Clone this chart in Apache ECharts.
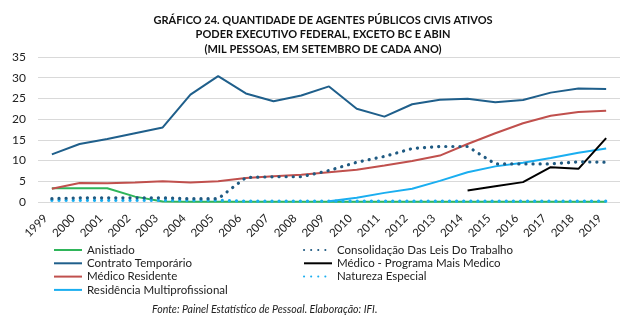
<!DOCTYPE html>
<html>
<head>
<meta charset="utf-8">
<script src="https://cdn.jsdelivr.net/npm/echarts@6/dist/echarts.min.js"></script>
<style>
  html, body { margin: 0; padding: 0; background: #fff; }
  #chart { width: 637px; height: 323px; }
</style>
</head>
<body>
<div id="chart"></div>
<script>
// Agentes públicos civis ativos por vínculo, em mil pessoas (setembro de cada ano)
const anos = ['1999','2000','2001','2002','2003','2004','2005','2006','2007','2008','2009',
              '2010','2011','2012','2013','2014','2015','2016','2017','2018','2019'];

const anistiado = [3.3, 3.3, 3.3, 1.3, 0.1, 0.05, 0.05, 0.05, 0.05, 0.05, 0.05,
                   0.05, 0.05, 0.05, 0.05, 0.05, 0.05, 0.05, 0.05, 0.05, 0.05];
const contratoTemporario = [11.5, 14.0, 15.2, 16.6, 18.0, 25.9, 30.4, 26.2, 24.3, 25.7, 27.9,
                            22.5, 20.6, 23.6, 24.7, 24.9, 24.1, 24.6, 26.4, 27.4, 27.3];
const medicoResidente = [3.2, 4.6, 4.5, 4.7, 5.0, 4.7, 5.0, 5.8, 6.2, 6.6, 7.2,
                         7.8, 8.8, 9.9, 11.2, 14.0, 16.6, 19.0, 20.8, 21.7, 22.0];
const residenciaMulti = [null, null, null, null, null, null, null, null, null, null, 0.2,
                         1.0, 2.2, 3.2, 5.1, 7.2, 8.6, 9.5, 10.6, 11.9, 12.9];
const clt = [0.8, 1.0, 1.0, 1.0, 1.0, 0.8, 0.8, 5.9, 6.1, 6.1, 7.6,
             9.6, 11.0, 12.9, 13.4, 13.4, 9.2, 9.2, 9.2, 9.7, 9.6];
const maisMedico = [null, null, null, null, null, null, null, null, null, null, null,
                    null, null, null, null, 2.8, 3.8, 4.8, 8.4, 8.0, 15.4];
const naturezaEspecial = [0.4, 0.4, 0.4, 0.4, 0.4, 0.4, 0.4, 0.2, 0.2, 0.2, 0.2,
                          0.2, 0.2, 0.2, 0.2, 0.2, 0.2, 0.2, 0.2, 0.2, 0.2];

const yTicks = [0, 5, 10, 15, 20, 25, 30, 35];

const FONT = 'Lato';
const chart = echarts.init(document.getElementById('chart'), null, { renderer: 'canvas' });

function solid(name, data, color) {
  return {
    name, type: 'line', data, symbol: 'none', smooth: false,
    lineStyle: { color, width: 2 }, itemStyle: { color },
    connectNulls: false, animation: false
  };
}
function dots(name, data, color) {
  return {
    name, type: 'line', data, symbol: 'none', smooth: false,
    lineStyle: { color, width: 3.2, type: [0.1, 7], cap: 'round' },
    itemStyle: { color }, animation: false
  };
}

const legendText = { fontFamily: FONT, fontSize: 11.5, color: '#222' };
const legendBase = {
  orient: 'vertical', top: 239, itemWidth: 28, itemHeight: 8, itemGap: 1.3,
  itemStyle: { opacity: 0 }, textStyle: legendText
};

chart.setOption({
  backgroundColor: '#ffffff',
  animation: false,
  title: {
    text: 'GRÁFICO 24. QUANTIDADE DE AGENTES PÚBLICOS CIVIS ATIVOS\nPODER EXECUTIVO FEDERAL, EXCETO BC E ABIN\n(MIL PESSOAS, EM SETEMBRO DE CADA ANO)',
    left: 318, top: 8, textAlign: 'center',
    textStyle: { fontFamily: FONT, fontSize: 11, fontWeight: 'bold', color: '#111', lineHeight: 14.5 }
  },
  graphic: [{
    type: 'text', left: 152, top: 304,
    style: { text: 'Fonte: Painel Estatístico de Pessoal. Elaboração: IFI.',
             font: 'italic 10.6px ' + FONT, fill: '#222' }
  }],
  grid: { left: 38, right: 17, top: 57, bottom: 121, containLabel: false },
  xAxis: {
    type: 'category', data: anos, boundaryGap: true,
    axisLine: { show: false }, axisTick: { show: false },
    axisLabel: { rotate: 45, fontFamily: FONT, fontSize: 11.5, color: '#222', margin: 8,
                 padding: [0, 9, 0, 0], interval: 0 }
  },
  yAxis: {
    type: 'value', min: yTicks[0], max: yTicks[yTicks.length - 1], interval: 5,
    axisLine: { show: false }, axisTick: { show: false },
    axisLabel: { fontFamily: FONT, fontSize: 12, color: '#222', margin: 12 },
    splitLine: { lineStyle: { color: '#d9d9d9', width: 1 } }
  },
  legend: [
    Object.assign({}, legendBase, {
      left: 48,
      data: ['Anistiado', 'Contrato Temporário', 'Médico Residente', 'Residência Multiprofissional']
    }),
    Object.assign({}, legendBase, {
      left: 298,
      data: ['Consolidação Das Leis Do Trabalho', 'Médico - Programa Mais Medico', 'Natureza Especial']
    })
  ],
  series: [
    solid('Anistiado', anistiado, '#2fb55a'),
    solid('Médico Residente', medicoResidente, '#c0504d'),
    solid('Residência Multiprofissional', residenciaMulti, '#1aaef0'),
    solid('Médico - Programa Mais Medico', maisMedico, '#000000'),
    dots('Natureza Especial', naturezaEspecial, '#1aaef0'),
    dots('Consolidação Das Leis Do Trabalho', clt, '#1f5a82'),
    solid('Contrato Temporário', contratoTemporario, '#1f5f8b')
  ]
});
</script>
</body>
</html>
